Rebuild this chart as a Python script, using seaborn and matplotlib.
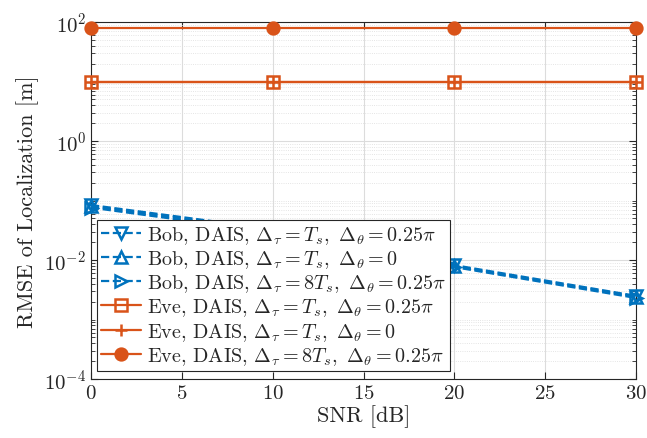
import numpy as np
import pandas as pd
import matplotlib
matplotlib.use("Agg")
import matplotlib.pyplot as plt
import seaborn as sns
from matplotlib.ticker import LogLocator, NullFormatter, MultipleLocator

snr = [0, 10, 20, 30]
bob_ts_025 = [0.084, 0.033, 0.0082, 0.0025]
bob_ts_0 = [0.080, 0.031, 0.0079, 0.0024]
bob_8ts_025 = [0.076, 0.029, 0.0076, 0.0023]
eve_ts_025 = [9.9, 9.9, 9.9, 9.9]
eve_ts_0 = [9.9, 9.9, 9.9, 9.9]
eve_8ts_025 = [79.0, 79.0, 79.0, 79.0]

labels = [
    r"Bob, DAIS, $\Delta_\tau=T_s,\ \Delta_\theta=0.25\pi$",
    r"Bob, DAIS, $\Delta_\tau=T_s,\ \Delta_\theta=0$",
    r"Bob, DAIS, $\Delta_\tau=8T_s,\ \Delta_\theta=0.25\pi$",
    r"Eve, DAIS, $\Delta_\tau=T_s,\ \Delta_\theta=0.25\pi$",
    r"Eve, DAIS, $\Delta_\tau=T_s,\ \Delta_\theta=0$",
    r"Eve, DAIS, $\Delta_\tau=8T_s,\ \Delta_\theta=0.25\pi$",
]

sns.set_style("ticks")
plt.rcParams['font.family'] = ['cmr10', 'DejaVu Serif']
plt.rcParams['mathtext.fontset'] = 'cm'
plt.rcParams['axes.formatter.use_mathtext'] = True
plt.rcParams['axes.unicode_minus'] = False

blue = "#0072BD"
orange = "#D95319"

fig = plt.figure(figsize=(6.47, 4.39), dpi=100)
W, H = 647, 439
ax = fig.add_axes([91 / W, 1 - 380 / H, 545 / W, 357 / H])

series = [
    (bob_ts_025, blue, "v", "--", "none", 8),
    (bob_ts_0, blue, "^", "--", "none", 8),
    (bob_8ts_025, blue, ">", "--", "none", 8),
    (eve_ts_025, orange, "s", "-", "none", 8),
    (eve_ts_0, orange, "+", "-", orange, 8),
    (eve_8ts_025, orange, "o", "-", orange, 8.5),
]
for (vals, col, mk, ls, fc, ms), lab in zip(series, labels):
    df = pd.DataFrame({"snr": snr, "rmse": vals})
    sns.lineplot(data=df, x="snr", y="rmse", ax=ax, color=col, marker=mk,
                 linestyle=ls, linewidth=1.6, markersize=ms,
                 markerfacecolor=fc, markeredgecolor=col, markeredgewidth=1.8,
                 label=lab, clip_on=False, zorder=3)

ax.set_yscale("log")
ax.set_xlim(0, 30)
ax.set_ylim(1e-4, 1e2)
ax.set_yticks([1e-4, 1e-2, 1e0, 1e2])
ax.yaxis.set_minor_locator(LogLocator(base=10, subs=np.arange(1, 10), numticks=20))
ax.yaxis.set_minor_formatter(NullFormatter())
ax.xaxis.set_major_locator(MultipleLocator(5))

ax.grid(True, which="major", color="#dcdcdc", linewidth=0.8, linestyle="-")
ax.grid(True, which="minor", axis="y", color="#dcdcdc", linewidth=0.6, linestyle=":")
ax.tick_params(which="both", direction="in", top=True, right=True, labelsize=15, colors="#262626")
ax.tick_params(which="major", length=5)
ax.tick_params(which="minor", length=3)
for s in ax.spines.values():
    s.set_color("#262626")
    s.set_linewidth(0.8)

ax.set_xlabel("SNR [dB]", fontsize=16, color="#262626", labelpad=2)
ax.set_ylabel("RMSE of Localization [m]", fontsize=16, color="#262626")

leg = ax.legend(loc="lower left", bbox_to_anchor=(6 / 545, 8 / 357), fontsize=14.5,
                frameon=True, fancybox=False, edgecolor="#262626",
                framealpha=1, handlelength=2.0, handletextpad=0.3,
                labelspacing=0.12, borderpad=0.2, borderaxespad=0)
leg.get_frame().set_linewidth(0.8)
leg.set_zorder(5)

fig.savefig("out.png", dpi=100)
